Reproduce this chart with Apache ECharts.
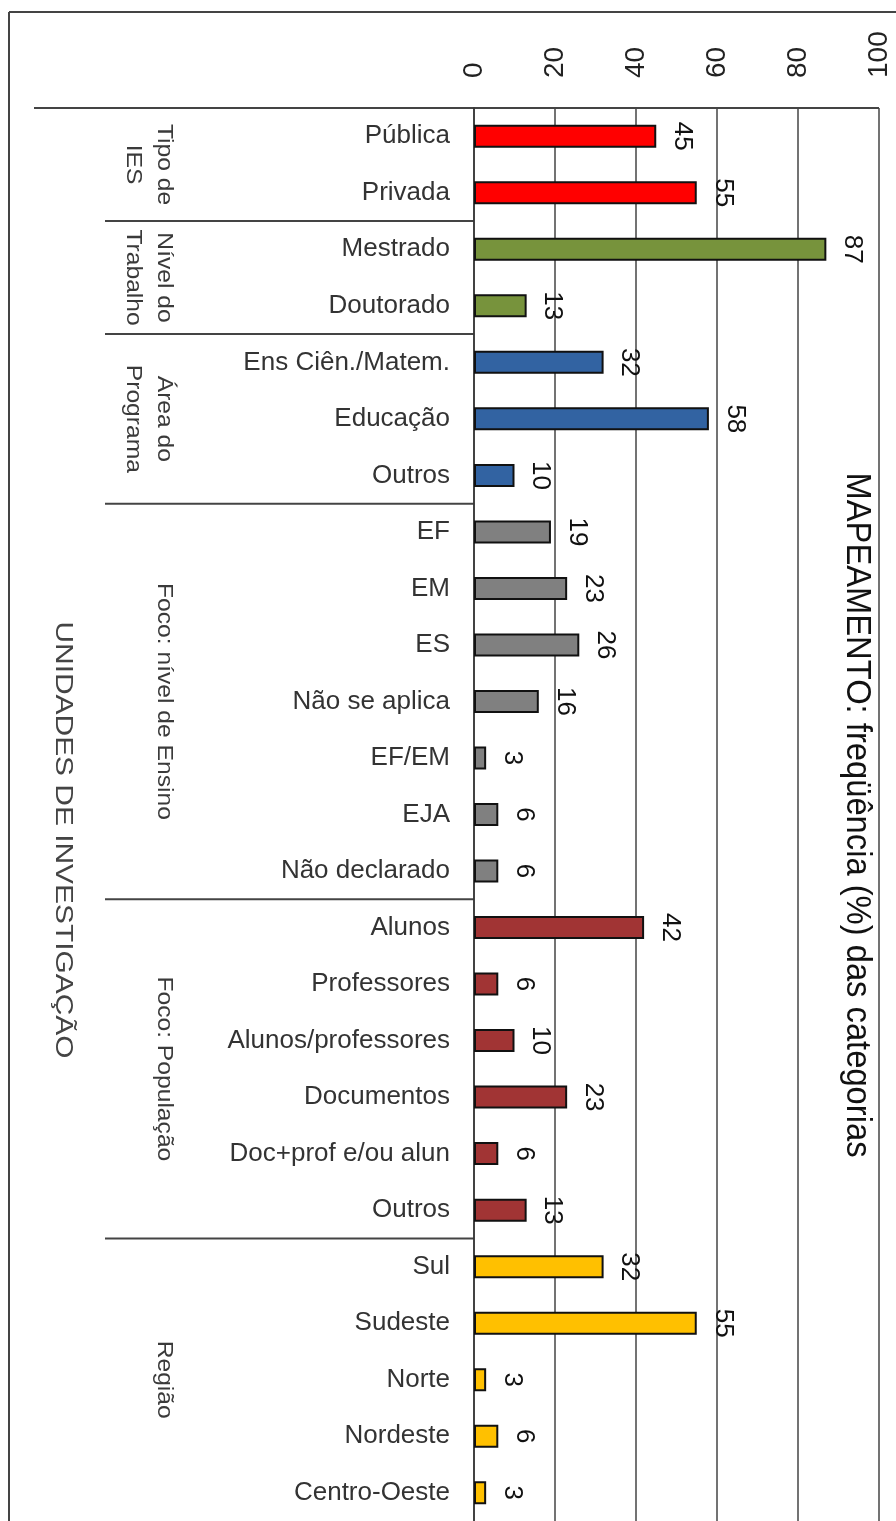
<!DOCTYPE html>
<html><head><meta charset="utf-8">
<script src="https://cdn.jsdelivr.net/npm/echarts@6/dist/echarts.min.js"></script>
<style>html,body{margin:0;padding:0;background:#fff}#c{width:896px;height:1521px}</style>
</head><body><div id="c"></div>
<script>
const categories = ['Pública','Privada','Mestrado','Doutorado','Ens Ciên./Matem.','Educação','Outros','EF','EM','ES','Não se aplica','EF/EM','EJA','Não declarado','Alunos','Professores','Alunos/professores','Documentos','Doc+prof e/ou alun','Outros','Sul','Sudeste','Norte','Nordeste','Centro-Oeste'];
const values = [45,55,87,13,32,58,10,19,23,26,16,3,6,6,42,6,10,23,6,13,32,55,3,6,3];
const groupNames = ['Tipo de\nIES','Nível do\nTrabalho','Área do\nPrograma','Foco: nível de Ensino','Foco: População','Região'];
const groupSizes = [2,2,3,7,6,5];
const groupColors = ['#ff0000','#77933c','#3263a2','#808080','#a13434','#ffc000'];
const xTicks = [0,20,40,60,80,100];
const titleText = 'MAPEAMENTO: freqüência (%) das categorias';
const axisTitle = 'UNIDADES DE INVESTIGAÇÃO';

const FONT = "'Liberation Sans', Arial, sans-serif";
const groupOf = [];
groupSizes.forEach((n, g) => { for (let k = 0; k < n; k++) groupOf.push(g); });

const chart = echarts.init(document.getElementById('c'), null, {renderer: 'canvas'});
const option = {
  backgroundColor: '#fff',
  animation: false,
  textStyle: {fontFamily: FONT},
  grid: {left: 474, top: 108, width: 405, height: 1419, containLabel: false},
  xAxis: {
    type: 'value', position: 'top',
    min: xTicks[0], max: xTicks[xTicks.length - 1], interval: xTicks[1] - xTicks[0],
    axisLine: {show: false}, axisTick: {show: false},
    splitLine: {show: true, lineStyle: {color: '#444', width: 1.5}},
    axisLabel: {rotate: -90, fontSize: 28, color: '#222', margin: 30, fontFamily: FONT}
  },
  yAxis: {
    type: 'category', inverse: true, data: categories,
    axisLine: {show: true, lineStyle: {color: '#333', width: 1.5}},
    axisTick: {show: false},
    splitLine: {show: false},
    axisLabel: {fontSize: 26, color: '#333', margin: 24, fontFamily: FONT}
  },
  series: [{
    type: 'bar',
    barWidth: 23,
    data: values.map((v, i) => ({value: v, itemStyle: {color: groupColors[groupOf[i]]}})),
    itemStyle: {borderColor: '#111', borderWidth: 2},
    label: {
      show: true, position: 'right', distance: 26, rotate: -90,
      align: 'center', verticalAlign: 'middle',
      fontSize: 26, color: '#111', fontFamily: FONT
    }
  }]
};
chart.setOption(option);

const yOf = i => chart.convertToPixel({yAxisIndex: 0}, i);
const x0 = chart.convertToPixel({xAxisIndex: 0}, 0);
const xMax = chart.convertToPixel({xAxisIndex: 0}, xTicks[xTicks.length - 1]);
const half = (yOf(1) - yOf(0)) / 2;
const gTop = yOf(0) - half;
const lineStyle = {stroke: '#444', lineWidth: 2};
const elements = [];
// frame
elements.push({type: 'line', shape: {x1: 9, y1: 12, x2: 896, y2: 12}, style: lineStyle});
elements.push({type: 'line', shape: {x1: 9, y1: 12, x2: 9, y2: 1521}, style: lineStyle});
// top line of plot
elements.push({type: 'line', shape: {x1: 34, y1: gTop, x2: xMax, y2: gTop}, style: lineStyle});
let start = 0;
groupSizes.forEach((n, g) => {
  const end = start + n - 1;
  if (g > 0) {
    const yb = (yOf(start - 1) + yOf(start)) / 2;
    elements.push({type: 'line', shape: {x1: 105, y1: yb, x2: x0, y2: yb}, style: lineStyle});
  }
  const yc = (yOf(start) + yOf(end)) / 2;
  elements.push({
    type: 'text', x: 179.5, y: yc, rotation: -Math.PI / 2, scaleX: 1.12,
    style: {text: groupNames[g], fontSize: 22, lineHeight: 31, fill: '#3a3a3a',
      align: 'center', verticalAlign: 'top', fontFamily: FONT}
  });
  start = end + 1;
});
elements.push({
  type: 'text', x: 857, y: 815, rotation: -Math.PI / 2, scaleX: 0.935,
  style: {text: titleText, fontSize: 35, fill: '#111', align: 'center', verticalAlign: 'middle', fontFamily: FONT}
});
elements.push({
  type: 'text', x: 62, y: 840, rotation: -Math.PI / 2, scaleX: 1.3,
  style: {text: axisTitle, fontSize: 23, fill: '#444', align: 'center', verticalAlign: 'middle', fontFamily: FONT}
});
chart.setOption({graphic: {elements: elements}});
</script>
</body></html>
